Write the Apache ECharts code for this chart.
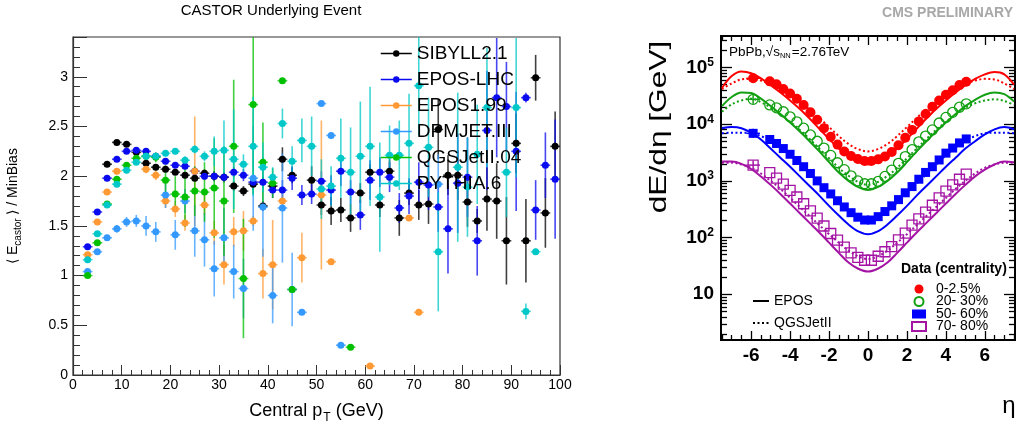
<!DOCTYPE html>
<html><head><meta charset="utf-8">
<script src="https://cdn.jsdelivr.net/npm/echarts@6/dist/echarts.min.js"></script>
<style>html,body{margin:0;padding:0;background:#fff;}#c{width:1019px;height:429px;}</style>
</head><body><div id="c"></div>
<script>
// ---------------- Left panel data (CASTOR underlying event) ----------------
const ptX = [3,5,7,9,11,13,15,17,19,21,23,25,27,29,31,33,35,37,39,41,43,45,47,49,51,53,55,57,59,61,63,65,67,69,71,73,75,77,79,81,83,85,87,89,91,93,95,97,99];
const sibyll = [null,null,2.12,2.34,2.32,2.24,2.13,2.09,2.07,2.04, 2.01,1.98,2.03,2.00,1.99,1.90,1.85,1.92,1.70,1.90, 2.17,2.01,null,1.96,1.71,1.65,1.66,1.58,1.83,2.04, 1.71,2.05,1.58,1.83,1.71,1.72,2.47,2.01,2.01,1.74, 1.55,1.77,1.75,1.35,2.33,1.35,2.99,1.63,2.30];
const sibyllErr = [0,0,.02,.02,.02,.02,.02,.03,.03,.03, .03,.04,.04,.05,.05,.05,.05,.06,.05,.06, .12,.08,0,.14,.1,.14,.12,.14,.1,.08, .12,.12,.18,.12,.15,.2,.3,.2,.25,.25, .12,.32,.38,.44,.3,.42,.23,.35,.35];
const eposLhc = [1.29,1.64,1.98,2.17,2.25,2.26,2.25,2.20,2.15,2.11, 2.10,2.05,2.00,2.00,1.99,2.04,2.01,1.94,1.94,1.86, 1.86,1.98,1.81,1.82,1.95,1.86,2.05,1.84,1.61,1.96, 2.04,1.99,1.68,1.80,1.94,1.91,1.69,1.47,1.93,1.99, 1.35,2.46,2.79,2.70,2.25,2.79,1.66,2.11,1.97];
const eposLhcErr = [.02,.02,.02,.02,.02,.02,.02,.02,.03,.03, .03,.04,.04,.05,.05,.05,.06,.06,.06,.08, .1,.12,.1,.1,.1,.15,.15,.12,.15,.2, .15,.15,.15,.18,.2,.25,.25,.45,.5,.4, .35,.6,.6,.45,.6,.05,.3,.33,.6];
const epos199 = [1.21,1.54,1.84,2.05,null,null,2.07,2.01,1.75,1.67, 1.53,2.05,1.71,1.43,1.11,1.44,1.45,1.55,1.02,1.11, 1.75,null,1.18,null,1.81,1.14,null,null,null,0.09, null,null,null,1.58,0.63,null,null,null,null,null, null,null,null,null,null,null,null,null,null];
const epos199Err = [.02,.02,.02,.03,0,0,.04,.05,.07,.08, .08,.55,.1,.12,.2,.15,.2,.05,.25,.45, .1,0,.25,0,.75,.03,0,0,0,.02, 0,0,0,.03,.03,0,0,0,0,0, 0,0,0,0,0,0,0,0,0];
const dpmjet = [1.04,1.24,1.38,1.47,1.54,1.55,1.50,1.44,1.81,1.41, 1.75,1.45,1.36,1.07,1.38,1.04,0.87,1.98,1.69,0.80, 1.68,0.86,0.63,null,2.73,2.41,0.30,null,null,null, null,null,null,null,null,null,1.92,null,null,null, null,null,null,null,null,null,null,null,null];
const dpmjetErr = [.02,.02,.02,.04,.05,.06,.1,.1,.13,.15, .12,.26,.27,.28,.3,.27,.3,.53,.5,.28, .55,.37,.02,0,.02,.02,.02,0,0,0, 0,0,0,0,0,0,.3,0,0,0, 0,0,0,0,0,0,0,0,0];
const qgsjet = [1.00,1.33,1.72,1.97,2.11,2.18,2.20,2.19,1.96,1.82, 1.79,1.85,1.84,1.88,1.75,2.30,0.97,2.72,2.14,1.93, 2.96,0.86,null,null,null,null,null,0.28,null,null, null,null,null,null,null,null,null,null,null,null, null,null,null,null,null,null,null,null,null];
const qgsjetErr = [.02,.02,.02,.02,.03,.03,.04,.05,.15,.18, .3,.25,.3,.5,.55,.67,.6,.9,.4,.15, .02,.03,0,0,0,0,0,.02,0,0, 0,0,0,0,0,0,0,0,0,0, 0,0,0,0,0,0,0,0,0];
const pythia = [1.16,1.42,1.71,1.92,2.06,2.14,2.20,2.20,2.23,2.25, 2.16,2.27,2.20,2.25,2.26,2.17,2.12,2.30,2.09,1.99, 2.53,2.15,2.36,2.30,1.87,1.90,2.18,2.04,2.20,2.30, 1.79,2.21,2.21,2.33,2.91,2.29,1.24,null,2.09,1.89, 2.22,2.69,null,2.04,2.69,0.64,1.24,null,null];
const pythiaErr = [.02,.02,.02,.02,.02,.02,.02,.02,.02,.03, .04,.04,.05,.15,.3,.5,.1,.5,.25,.1, .15,.15,.22,.3,.3,.2,.4,.45,.55,.6, .55,.3,.35,.5,.5,.5,.6,0,.75,.5, .5,.6,0,.45,.7,.08,.03,0,0];
const leftNames = ['SIBYLL2.1','EPOS-LHC','EPOS1.99','DPMJET.III','QGSJetII.04','PYTHIA.6'];
const leftYTicks = [0,0.5,1,1.5,2,2.5,3];

// ---------------- Right panel data (PbPb dE/deta) ----------------
const etaData = [-5.9,-5.046,-4.698,-4.35,-4.002,-3.654,-3.306,-2.958,-2.61,-2.262,-1.914,-1.566,-1.218,-0.87,-0.522,-0.174,0.174,0.522,0.87,1.218,1.566,1.914,2.262,2.61,2.958,3.306,3.654,4.002,4.35,4.698,5.046];
const cent0 = [64600,57000,50500,41700,34700,28200,21900,16200,12000,8500,6000,4370,3300,2750,2430,2250,2240,2400,2690,3240,4270,5750,7940,11200,15100,20400,26300,33100,39800,49000,56200];
const cent20 = [27500,21900,19500,16600,13500,11000,8500,6460,5010,3800,2820,2090,1580,1230,1000,891,891,977,1200,1550,2040,2690,3550,4900,6170,7940,10500,13200,16200,19950,22900];
const cent50 = [6900,5370,4570,3720,2950,2290,1780,1350,1000,759,589,447,347,275,229,204,204,234,288,363,468,617,794,1070,1410,1780,2340,3090,3800,4680,5500];
const cent70 = [1900,1400,1120,880,680,520,395,295,220,160,118,90,68,53.7,44.7,39.8,39.8,46.8,56.2,69.2,91.2,120,166,214,282,372,501,661,851,1070,1320];
const castorEta = -5.9;
const castorLo = [54000,23000,5700,1580];
const castorHi = [78000,33000,8300,2280];
const etaModel = [-7.5,-7,-6.5,-6,-5.5,-5,-4.5,-4,-3.5,-3,-2.5,-2,-1.5,-1,-0.5,0,0.5,1,1.5,2,2.5,3,3.5,4,4.5,5,5.5,6,6.5,7,7.5];
const epos0 = [43650,70800,85100,79400,64600,49000,36300,26300,18600,12600,8320,5500,3720,2690,2140,1950,2140,2690,3720,5500,8320,12600,18600,26300,36300,49000,63100,75900,83200,75900,50100];
const qgs0 = [41700,52500,61700,63100,58900,50100,41700,33100,25100,18200,12900,8910,6170,4470,3630,3310,3630,4470,6170,8910,12900,18200,25100,33100,41700,50100,58900,63100,61700,52500,41700];
const epos20 = [20900,30200,36300,35500,28200,20900,15100,10700,7410,5010,3310,2140,1410,1000,776,692,776,1000,1410,2140,3310,5010,7410,10700,15100,20900,26900,33100,36300,33900,25100];
const qgs20 = [16600,22400,26300,28200,24500,19500,14800,11000,7940,5500,3720,2510,1700,1230,955,851,955,1230,1700,2510,3720,5500,7940,11000,14800,19500,23400,26300,27500,25700,21900];
const epos50 = [8510,8910,8510,7080,5370,3720,2570,1780,1200,813,550,363,245,170,129,115,129,170,245,363,550,813,1200,1780,2570,3720,5010,6610,8130,8910,8130];
const qgs50 = [6920,7080,7080,6920,6170,5130,3890,2820,1950,1320,891,603,407,295,234,214,234,295,407,603,891,1320,1950,2820,3890,5130,6170,6920,7080,7080,6920];
const epos70 = [2190,2190,2000,1620,1200,851,589,398,269,182,123,81.3,53.7,36.3,28.2,25.1,28.2,36.3,53.7,81.3,123,182,269,398,589,851,1200,1580,1950,2190,2140];
const qgs70 = [2090,2090,1950,1700,1350,1000,724,501,347,240,166,115,81.3,58.9,46.8,41.7,46.8,58.9,81.3,115,166,240,347,501,724,1000,1350,1700,1950,2090,2090];
const centNames = ['0-2.5%','20- 30%','50- 60%','70- 80%'];
const logMajorTicks = [10,100,1000,10000,100000];
const logMinorTicks = [2,3,4,5,6,7,8,9,20,30,40,50,60,70,80,90,200,300,400,500,600,700,800,900,2000,3000,4000,5000,6000,7000,8000,9000,20000,30000,40000,50000,60000,70000,80000,90000,200000,300000];
const etaMajorTicks = [-6,-4,-2,0,2,4,6];
const etaMinorTicks = [-7.5,-7,-6.5,-5.5,-5,-4.5,-3.5,-3,-2.5,-1.5,-1,-0.5,0.5,1,1.5,2.5,3,3.5,4.5,5,5.5,6.5,7,7.5];

// ---------------- styling ----------------
const FONT = '"Liberation Sans", Arial, Helvetica, sans-serif';
const leftColors = ['#000000','#0a0af0','#ff9933','#3399ff','#00c000','#00c8c8'];
const rightColors = ['#ff0000','#13a013','#0000ff','#a414a4'];
const binHalf = 1;

function pairs(xs, ys) { const out = []; for (let i = 0; i < xs.length; i++) if (ys[i] != null) out.push([xs[i], ys[i]]); return out; }
function triples(xs, ys, es) { const out = []; for (let i = 0; i < xs.length; i++) if (ys[i] != null) out.push([xs[i], ys[i], es[i]]); return out; }

function errSeries(color, vals, errs) {
  return {
    type: 'custom', xAxisIndex: 0, yAxisIndex: 0, clip: true, silent: true, z: 2,
    data: triples(ptX, vals, errs), encode: { x: 0, y: 1 },
    renderItem: function (params, api) {
      const x = api.value(0), y = api.value(1), e = api.value(2);
      const a = api.coord([x, y - e]), b = api.coord([x, y + e]);
      const l = api.coord([x - binHalf, y]), r = api.coord([x + binHalf, y]);
      const st = { stroke: color, lineWidth: 1.6, opacity: 0.75 };
      return { type: 'group', children: [
        { type: 'line', shape: { x1: a[0], y1: a[1], x2: b[0], y2: b[1] }, style: st },
        { type: 'line', shape: { x1: l[0], y1: l[1], x2: r[0], y2: r[1] }, style: st }
      ]};
    }
  };
}
function markerSeries(name, color, vals) {
  return { type: 'line', name: name, xAxisIndex: 0, yAxisIndex: 0, data: pairs(ptX, vals),
    symbol: 'circle', symbolSize: 7, showSymbol: true, itemStyle: { color: color },
    lineStyle: { color: color, width: 1.5, opacity: 0 }, z: 3, clip: true, silent: true };
}

const leftVals = [sibyll, eposLhc, epos199, dpmjet, qgsjet, pythia];
const leftErrs = [sibyllErr, eposLhcErr, epos199Err, dpmjetErr, qgsjetErr, pythiaErr];
const series = [];
for (let k = 0; k < 6; k++) series.push(errSeries(leftColors[k], leftVals[k], leftErrs[k]));
for (let k = 0; k < 6; k++) series.push(markerSeries(leftNames[k], leftColors[k], leftVals[k]));

// right panel model curves
const models = [[epos0, qgs0], [epos20, qgs20], [epos50, qgs50], [epos70, qgs70]];
for (let k = 0; k < 4; k++) {
  series.push({ type: 'line', xAxisIndex: 1, yAxisIndex: 1, data: pairs(etaModel, models[k][0]), smooth: 0.35,
    symbol: 'none', lineStyle: { color: rightColors[k], width: 2, type: 'solid' }, z: 2, silent: true, clip: true });
  series.push({ type: 'line', xAxisIndex: 1, yAxisIndex: 1, data: pairs(etaModel, models[k][1]), smooth: 0.35,
    symbol: 'none', lineStyle: { color: rightColors[k], width: 2, type: [2, 2.5] }, z: 2, silent: true, clip: true });
}
// castor error bars
series.push({ type: 'custom', xAxisIndex: 1, yAxisIndex: 1, clip: true, silent: true, z: 3,
  data: castorLo.map((lo, k) => [castorEta, lo, castorHi[k], k]), encode: { x: 0, y: 1 },
  renderItem: function (params, api) {
    const x = api.value(0), lo = api.value(1), hi = api.value(2), k = api.value(3);
    const vals = [cent0, cent20, cent50, cent70][k];
    const a = api.coord([x, lo]), b = api.coord([x, hi]);
    const l = api.coord([x - 0.35, vals[0]]), r = api.coord([x + 0.35, vals[0]]);
    const st = { stroke: rightColors[k], lineWidth: 1.5 };
    return { type: 'group', children: [
      { type: 'line', shape: { x1: a[0], y1: a[1], x2: b[0], y2: b[1] }, style: st },
      { type: 'line', shape: { x1: l[0], y1: l[1], x2: r[0], y2: r[1] }, style: st }
    ]};
  }
});
const centVals = [cent0, cent20, cent50, cent70];
const centSymbols = ['circle', 'circle', 'rect', 'rect'];
const centFill = [rightColors[0], 'transparent', rightColors[2], 'transparent'];
const centSize = [10, 10, 9, 10];
for (let k = 0; k < 4; k++) {
  series.push({ type: 'scatter', name: centNames[k], xAxisIndex: 1, yAxisIndex: 1, data: pairs(etaData, centVals[k]),
    symbol: centSymbols[k], symbolSize: centSize[k],
    itemStyle: { color: centFill[k], borderColor: rightColors[k], borderWidth: centFill[k] === 'transparent' ? 1.3 : 0, opacity: 1 },
    z: 4, silent: true });
}
series.push({ type: 'line', name: 'EPOS', xAxisIndex: 1, yAxisIndex: 1, data: [], symbol: 'none', itemStyle: { color: '#000' }, lineStyle: { color: '#000', width: 2, type: 'solid' } });
series.push({ type: 'line', name: 'QGSJetII', xAxisIndex: 1, yAxisIndex: 1, data: [], symbol: 'none', itemStyle: { color: '#000' }, lineStyle: { color: '#000', width: 2, type: [2, 2.5] } });

function logLabel(v) {
  const l = Math.log10(v), e = Math.round(l);
  if (Math.abs(l - e) > 1e-6) return '';
  if (e === 1) return '{b|10}';
  return '{b|10}{s|' + e + '}';
}
function etaLabel(v) {
  if (Math.abs(v - Math.round(v)) > 1e-6 || Math.round(v) % 2 !== 0) return '';
  return String(Math.round(v));
}
const blackLine = { show: true, onZero: false, lineStyle: { color: '#000', width: 2 } };
const noLine = { show: false, onZero: false };
function etaAxis(pos, ticks, len, labels) {
  return { gridIndex: 1, type: 'value', min: -7.55, max: 7.55, position: pos,
    axisLine: labels ? blackLine : noLine,
    axisTick: { show: true, inside: true, length: len, customValues: ticks, lineStyle: { color: '#000', width: 1.3 } },
    splitLine: { show: false },
    axisLabel: labels ? { show: true, customValues: etaMajorTicks, color: '#000', fontSize: 19, fontWeight: 'bold', fontFamily: FONT, margin: 6, formatter: etaLabel } : { show: false } };
}
function logAxis(pos, ticks, len, labels) {
  return { gridIndex: 1, type: 'log', min: 1.56, max: 360000, position: pos, logBase: 10,
    axisLine: labels ? blackLine : noLine,
    axisTick: { show: true, inside: true, length: len, customValues: ticks, lineStyle: { color: '#000', width: 1.3 } },
    splitLine: { show: false },
    axisLabel: labels ? { show: true, customValues: logMajorTicks, color: '#000', fontFamily: FONT, margin: 7, formatter: logLabel,
        rich: { b: { fontSize: 19, fontWeight: 'bold', fontFamily: FONT, color: '#000' },
                s: { fontSize: 12, fontWeight: 'bold', fontFamily: FONT, color: '#000', verticalAlign: 'top', padding: [0, 0, 10, 0] } } } : { show: false } };
}

const option = {
  animation: false,
  backgroundColor: '#ffffff',
  textStyle: { fontFamily: FONT },
  grid: [
    { left: 73, top: 37, width: 487, height: 340, show: true, borderColor: '#333', borderWidth: 1.2, backgroundColor: 'transparent' },
    { left: 721, top: 36, width: 294, height: 304, show: true, borderColor: '#000', borderWidth: 2, backgroundColor: 'transparent' }
  ],
  xAxis: [
    { gridIndex: 0, type: 'value', min: 0, max: 100, interval: 10, position: 'bottom',
      axisLine: { show: true, onZero: false, lineStyle: { color: '#333', width: 1.2 } },
      axisTick: { show: true, inside: true, length: 10, lineStyle: { color: '#333' } },
      minorTick: { show: true, splitNumber: 5, length: 5, lineStyle: { color: '#333' } },
      splitLine: { show: false }, minorSplitLine: { show: false },
      axisLabel: { color: '#000', fontSize: 14, fontFamily: FONT, margin: 3 },
      name: 'Central p{sub|T} (GeV)', nameLocation: 'middle', nameGap: 23,
      nameTextStyle: { color: '#000', fontSize: 18, fontFamily: FONT,
        rich: { sub: { fontSize: 12, fontFamily: FONT, color: '#000', padding: [14, 0, 0, 1] } } } },
    etaAxis('bottom', etaMajorTicks, 9, true),
    etaAxis('top', etaMajorTicks, 9, false),
    etaAxis('bottom', etaMinorTicks, 5, false),
    etaAxis('top', etaMinorTicks, 5, false)
  ],
  yAxis: [
    { gridIndex: 0, type: 'value', min: 0, max: 3.4, interval: 0.5, position: 'left',
      axisLine: { show: true, onZero: false, lineStyle: { color: '#333', width: 1.2 } },
      axisTick: { show: true, inside: true, length: 14, lineStyle: { color: '#333' } },
      minorTick: { show: true, splitNumber: 5, length: 7, lineStyle: { color: '#333' } },
      splitLine: { show: false },
      axisLabel: { color: '#000', fontSize: 14, fontFamily: FONT, margin: 5,
        formatter: v => leftYTicks.some(t => Math.abs(t - v) < 1e-6) ? String(v) : '' },
      name: '⟨ E{sub|castor} ⟩ / MinBias', nameLocation: 'middle', nameGap: 50, nameRotate: 90,
      nameTextStyle: { color: '#000', fontSize: 14, fontFamily: FONT,
        rich: { sub: { fontSize: 10, fontFamily: FONT, color: '#000', padding: [10, 0, 0, 0] } } } },
    logAxis('left', logMajorTicks, 11, true),
    logAxis('right', logMajorTicks, 11, false),
    logAxis('left', logMinorTicks, 6, false),
    logAxis('right', logMinorTicks, 6, false)
  ],
  legend: [
    { data: leftNames, orient: 'vertical', left: 375, top: 39, itemWidth: 31, itemHeight: 8, itemGap: 7,
      selectedMode: false, textStyle: { fontSize: 19, fontFamily: FONT, color: '#000', lineHeight: 19 },
      lineStyle: { width: 1.5, opacity: 1 } },
    { data: centNames, orient: 'vertical', left: 906, top: 277, itemWidth: 14, itemHeight: 9, itemGap: -1.5,
      selectedMode: false, textStyle: { fontSize: 14, fontFamily: FONT, color: '#000', lineHeight: 13.5, padding: [0, 0, 0, 5] } },
    { data: ['EPOS', 'QGSJetII'], orient: 'vertical', left: 747, top: 289, itemWidth: 16, itemHeight: 8, itemGap: 8,
      selectedMode: false, itemStyle: { opacity: 0 }, lineStyle: { opacity: 1, width: 2 },
      textStyle: { fontSize: 14, fontFamily: FONT, color: '#000', lineHeight: 14 } }
  ],
  graphic: [
    { type: 'text', x: 271, y: 11, silent: true, style: { text: 'CASTOR Underlying Event', font: '15px ' + FONT, fill: '#000', align: 'center', verticalAlign: 'middle' } },
    { type: 'text', x: 1013, y: 13, silent: true, style: { text: 'CMS PRELIMINARY', font: 'bold 14px ' + FONT, fill: '#a8a8a8', align: 'right', verticalAlign: 'middle' } },
    { type: 'text', x: 659, y: 127, rotation: Math.PI / 2, scaleX: 1.32, silent: true, style: { text: 'dE/dη [GeV]', font: '24px ' + FONT, fill: '#000', align: 'center', verticalAlign: 'middle' } },
    { type: 'text', x: 1009, y: 406, silent: true, style: { text: 'η', font: '24px ' + FONT, fill: '#000', align: 'center', verticalAlign: 'middle' } },
    { type: 'text', x: 729, y: 52, silent: true, style: { text: '{a|PbPb,√}{o|s}{sub|NN}{a|=2.76TeV}', fill: '#000', verticalAlign: 'middle', align: 'left',
        rich: { a: { fontSize: 13.5, fontFamily: FONT, color: '#000' }, o: { fontSize: 13.5, fontFamily: FONT, color: '#000' },
                sub: { fontSize: 7.5, fontFamily: FONT, color: '#000', padding: [7, 1, 0, 0] } } } },
    { type: 'text', x: 901, y: 269, silent: true, style: { text: 'Data (centrality)', font: 'bold 14px ' + FONT, fill: '#000', align: 'left', verticalAlign: 'middle' } }
  ],
  series: series
};
const chart = echarts.init(document.getElementById('c'));
chart.setOption(option);
</script></body></html>
